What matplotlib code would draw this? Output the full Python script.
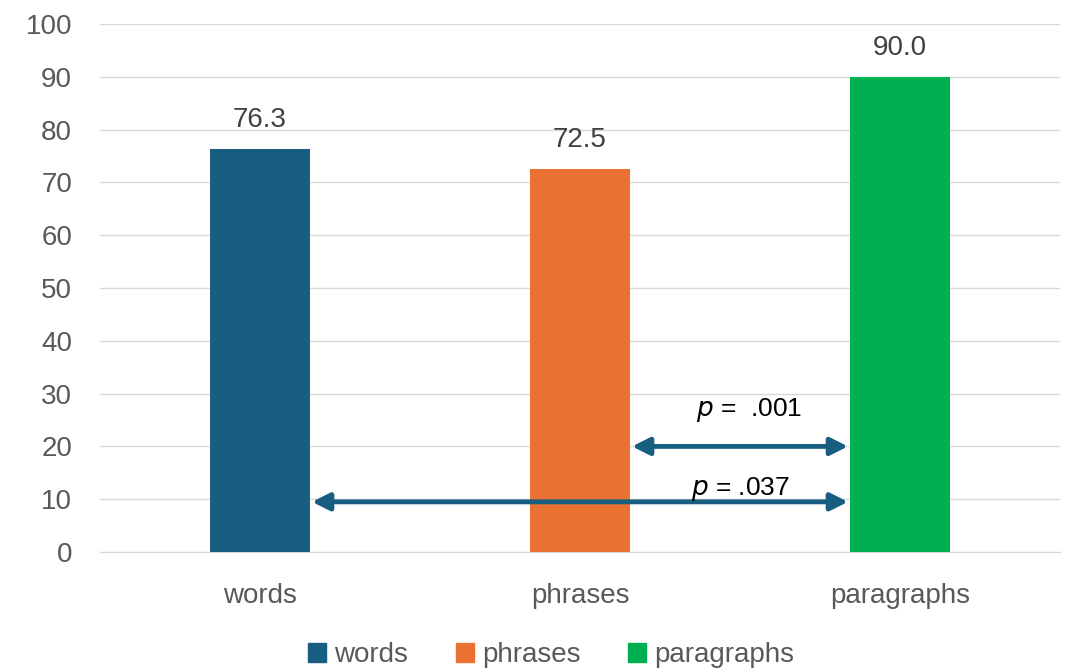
import numpy as np
from matplotlib import pyplot as plt
from matplotlib.patches import Patch

plt.rcParams['font.family'] = ['Liberation Sans', 'DejaVu Sans']

# Bar data
categories = ['words', 'phrases', 'paragraphs']
scores = [76.3, 72.5, 90.0]
colors = ['#175E80', '#E97132', '#00B050']

# Pairwise comparisons: (from category, to category, height, label)
pairs = [(1, 2, 20, '$p$ =  .001'), (0, 2, 9.5, '$p$ = .037')]

text_color = '#595959'

fig = plt.figure(figsize=(10.66, 6.70), dpi=100)
ax = fig.add_axes([0.0938, 0.1761, 0.9006, 0.7881])

x = np.arange(len(categories))
bars = ax.bar(x, scores, width=0.3125, color=colors, zorder=3)

for xi, v in zip(x, scores):
    ax.text(xi, v + 3, f'{v:.1f}', ha='center', va='bottom', fontsize=20, color='#404040')

ax.set_xlim(-0.5, 2.5)
ax.set_ylim(0, 100)
ax.set_yticks(np.arange(0, 101, 10))
ax.set_xticks(x)
ax.set_xticklabels(categories)
ax.tick_params(axis='both', length=0, labelsize=20, labelcolor=text_color)
ax.tick_params(axis='x', pad=22)
ax.tick_params(axis='y', pad=20)
ax.grid(axis='y', color='#d9d9d9', linewidth=1, zorder=0)
for s in ['top', 'right', 'left']:
    ax.spines[s].set_visible(False)
ax.spines['bottom'].set_color('#d9d9d9')

# Significance arrows between bars
for i, j, h, label in pairs:
    x0 = x[i] + 0.1625
    x1 = x[j] - 0.1625
    ax.annotate('', xy=(x1, h), xytext=(x0, h),
                arrowprops=dict(arrowstyle='<|-|>', color='#175E80', lw=3.5,
                                mutation_scale=26, shrinkA=0, shrinkB=0),
                zorder=4)

ax.text(1.53, 24.3, pairs[0][3], ha='center', va='bottom', fontsize=19, color='black', zorder=5)
ax.text(1.5, 9.3, pairs[1][3], ha='center', va='bottom', fontsize=19, color='black', zorder=5)

handles = [Patch(color=c, label=n) for c, n in zip(colors, categories)]
fig.legend(handles=handles, loc='lower center', bbox_to_anchor=(0.517, -0.035), ncol=3,
           frameon=False, fontsize=20, labelcolor=text_color, handlelength=0.65,
           handleheight=0.7, handletextpad=0.3, columnspacing=1.7)

fig.savefig('out.png', dpi=100)
